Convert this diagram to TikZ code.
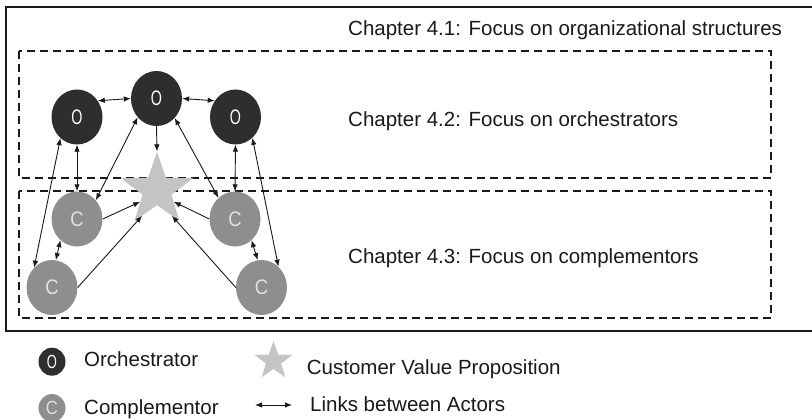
\documentclass[tikz,border=0pt]{standalone}
\usepackage{fontspec}
\setmainfont{Liberation Sans}
\usetikzlibrary{shapes.geometric,arrows.meta}
\definecolor{orch}{HTML}{2E2E2E}
\definecolor{comp}{HTML}{8E8E8E}
\definecolor{starc}{HTML}{C4C4C4}
\definecolor{ink}{HTML}{1A1A1A}
\newcommand{\sqO}{\scalebox{0.68}[1]{O}}
\newcommand{\sqC}{\scalebox{0.88}[1]{C}}
\begin{document}
\begin{tikzpicture}[x=1pt,y=-1pt,
  actor/.style={ellipse,inner sep=0pt,minimum width=51pt,minimum height=55pt,font=\fontsize{21}{21}\selectfont},
  orchnode/.style={actor,fill=orch,text=white},
  compnode/.style={actor,fill=comp,text=white!88!black},
  smallactor/.style={ellipse,inner sep=0pt,minimum width=27pt,minimum height=28pt,font=\fontsize{19}{19}\selectfont},
  tip/.tip={Latex[length=7pt,width=5.5pt]},
  link/.style={line width=0.9pt,ink,tip-tip},
  oneway/.style={line width=0.9pt,ink,-tip},
  boxdash/.style={line width=1.5pt,dash pattern=on 8pt off 5pt,ink},
  lbl/.style={anchor=base west,inner sep=0pt,font=\fontsize{20.5}{24}\selectfont,text=ink},
  cvp/.style={star,star points=5,star point ratio=2.5,fill=starc,inner sep=0pt}
]
\clip (0,0) rectangle (812,420);
\fill[white] (0,0) rectangle (812,420);

% frames
\draw[line width=1.2pt,ink] (6,7) rectangle (840,331);
\draw[boxdash] (19,51) rectangle (771,178);
\draw[boxdash] (19,191) rectangle (771,318);

% chapter labels
\node[lbl] (t1) at (348,35.7) {Chapter 4.1: Focus on organizational structures};
\node[lbl] (t2) at (348,126.7) {Chapter 4.2: Focus on orchestrators};
\node[lbl] (t3) at (348,263.3) {Chapter 4.3: Focus on complementors};

% star
\node[cvp,minimum size=76pt] (V) at (157,190) {};

% actors
\node[orchnode] (O1) at (77,117) {\sqO};
\node[orchnode] (O2) at (156.5,98.5) {\sqO};
\node[orchnode] (O3) at (235.5,117) {\sqO};
\node[compnode] (C1) at (77,219) {\sqC};
\node[compnode] (C2) at (235,219) {\sqC};
\node[compnode] (C3) at (52,287.5) {\sqC};
\node[compnode] (C4) at (261.5,287.5) {\sqC};

% links
\draw[link] (O1.38) -- (O2.west);
\draw[link] (O2.east) -- (O3.142);
\draw[oneway] (O2.south) -- (V.north);
\draw[link] (O1.south) -- (C1.north);
\draw[link] (O3.south) -- (C2.north);
\draw[link] (O2.225) -- (C1.45);
\draw[link] (O2.-47) -- (C2.128);
\draw[link] (O1.-128) -- (C3.132);
\draw[link] (O3.-51) -- (C4.51);
\draw[link] (C1.-128) -- (C3.82);
\draw[link] (C2.-52) -- (C4.98);
\draw[oneway] (C1.east) -- (V.215);
\draw[oneway] (C2.west) -- (V.325);
\draw[oneway] (C3.east) -- (V.240);
\draw[oneway] (C4.west) -- (V.300);

% legend
\node[smallactor,fill=orch,text=white] (LO) at (52,361.7) {\sqO};
\node[lbl] (LOt) at (84,366.7) {Orchestrator};
\node[smallactor,fill=comp,text=white!88!black] (LC) at (52,408) {\sqC};
\node[lbl] (LCt) at (84,414) {Complementor};
\node[cvp,minimum size=40pt] (LV) at (273.5,361) {};
\node[lbl] (LVt) at (306.7,374.3) {Customer Value Proposition};
\coordinate (LA) at (255,405);
\coordinate (LB) at (292,405);
\draw[link] (LA) -- (LB);
\node[lbl] (LAt) at (310,411) {Links between Actors};
\end{tikzpicture}
\end{document}
